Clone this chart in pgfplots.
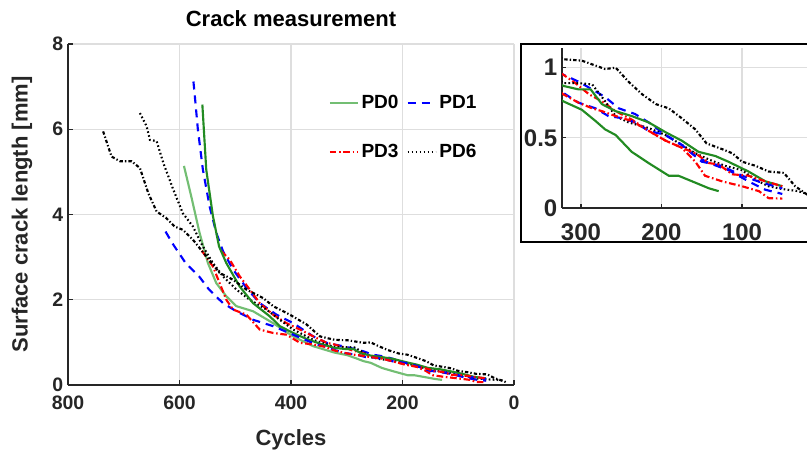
\documentclass[border=0pt]{standalone}
\usepackage{pgfplots}
\pgfplotsset{compat=1.18}
\usepackage{pgfplotstable}
\usepackage{fontspec}
\setmainfont{Liberation Sans}
\definecolor{lg}{RGB}{115,190,115}
\definecolor{dg}{RGB}{34,139,34}
\definecolor{tc}{RGB}{38,38,38}
\definecolor{gc}{RGB}{222,222,222}

% PD0 light green
\pgfplotstableread{
x y
592 5.14
579 4.43
564 3.57
549 2.86
534 2.39
516 2.08
498 1.85
468 1.73
432 1.45
396 1.14
360 0.91
322 0.76
299 0.70
282 0.62
270 0.56
257 0.52
237 0.40
216 0.32
191 0.23
179 0.23
162 0.19
141 0.14
129 0.12
}\pdB
% PD0 dark green
\pgfplotstableread{
x y
559 6.58
552 5.05
540 3.96
529 3.25
516 2.86
492 2.31
468 1.92
438 1.61
420 1.38
396 1.22
372 1.08
348 0.97
322 0.87
303 0.845
288 0.845
274 0.74
257 0.69
237 0.655
216 0.61
195 0.54
175 0.48
154 0.40
133 0.37
117 0.33
92 0.26
71 0.19
50 0.155
}\pdA
% PD1 upper
\pgfplotstableread{
x y
575 7.12
573 6.85
567 5.99
558 5.05
546 4.19
534 3.57
522 3.14
504 2.71
480 2.28
456 1.92
426 1.65
396 1.45
360 1.14
336 0.99
322 0.95
303 0.90
286 0.845
270 0.79
253 0.71
233 0.67
216 0.61
195 0.52
175 0.45
158 0.37
141 0.32
117 0.27
92 0.19
71 0.13
50 0.10
}\pdC
% PD1 lower
\pgfplotstableread{
x y
625 3.60
613 3.33
589 2.86
565 2.55
547 2.24
522 1.92
498 1.73
468 1.53
432 1.38
396 1.18
360 0.98
340 0.90
322 0.82
303 0.75
282 0.71
266 0.655
249 0.64
233 0.61
216 0.55
195 0.52
175 0.45
150 0.33
125 0.30
100 0.23
75 0.18
50 0.14
}\pdD
% PD3 upper
\pgfplotstableread{
x y
525 3.14
510 2.94
492 2.55
474 2.24
456 1.92
432 1.65
408 1.45
384 1.30
360 1.14
336 0.99
322 0.95
307 0.89
290 0.81
274 0.76
257 0.69
237 0.63
216 0.55
195 0.48
175 0.43
158 0.33
146 0.23
125 0.19
100 0.155
79 0.12
67 0.07
50 0.067
}\pdE
% PD3 lower
\pgfplotstableread{
x y
560 3.15
540 2.78
528 2.39
516 2.00
504 1.77
480 1.65
456 1.30
432 1.22
408 1.18
384 0.99
360 0.95
340 0.90
322 0.81
303 0.75
286 0.71
274 0.69
257 0.655
237 0.62
216 0.55
195 0.48
175 0.43
158 0.39
141 0.32
129 0.31
112 0.24
92 0.23
71 0.19
50 0.155
}\pdF
% PD6 dotted
\pgfplotstableread{
x y
671 6.38
659 6.07
653 5.75
641 5.72
629 5.21
611 4.58
594 4.03
576 3.72
558 3.25
540 2.86
522 2.55
498 2.24
474 2.00
444 1.77
420 1.53
396 1.30
360 1.06
340 0.97
322 0.89
303 0.89
286 0.88
270 0.76
257 0.655
241 0.61
216 0.57
195 0.52
175 0.45
158 0.39
141 0.345
121 0.30
100 0.27
83 0.20
67 0.155
50 0.135
30 0.12
19 0.10
}\pdG
% PD6 dash-dot
\pgfplotstableread{
x y
737 5.95
722 5.36
707 5.25
686 5.25
671 5.09
656 4.50
641 4.07
624 3.92
609 3.72
594 3.64
576 3.41
552 3.02
528 2.63
504 2.47
480 2.24
450 2.04
432 1.85
402 1.65
372 1.42
348 1.14
322 1.06
299 1.05
270 0.99
257 1.00
241 0.90
224 0.81
207 0.74
191 0.71
175 0.64
158 0.56
144 0.46
125 0.42
112 0.39
100 0.33
83 0.30
67 0.26
48 0.25
34 0.155
19 0.095
12 0.05
}\pdH

\pgfplotsset{
  sPDzero/.style={lg, line width=1.6pt, solid},
  sPDzeroB/.style={dg, line width=1.6pt, solid},
  sPDone/.style={blue, line width=1.6pt, dash pattern=on 6pt off 4.5pt},
  sPDthree/.style={red, line width=1.6pt, dash pattern=on 5pt off 2pt on 1.2pt off 2pt},
  sPDsix/.style={black, line width=1.6pt, dash pattern=on 1.2pt off 1.8pt},
  sPDsixB/.style={black, line width=1.6pt, dash pattern=on 2.5pt off 1.6pt on 1pt off 1.6pt},
  common/.style={
    scale only axis, x dir=reverse,
    grid=major, major grid style={gc, line width=0.8pt},
    axis x line*=bottom, axis y line*=left,
    axis line style={tc, line width=1pt, -},
    tick align=inside, major tick length=4pt, tick style={tc, line width=0.8pt},
    /pgf/number format/assume math mode=true,
  },
}

\begin{document}
\begin{tikzpicture}
\useasboundingbox (0pt,0pt) rectangle (605.25pt,337.5pt);
\begin{axis}[common,
  at={(51pt,48.75pt)}, anchor=south west,
  width=334.5pt, height=255.75pt,
  xmin=0, xmax=800, ymin=0, ymax=8,
  xtick={0,200,400,600,800}, ytick={0,2,4,6,8},
  ticklabel style={font=\fontsize{14.6}{16}\selectfont\bfseries, text=tc},
  xticklabel style={yshift=-4.5pt},
  xlabel={Cycles}, ylabel={Surface crack length [mm]},
  label style={font=\fontsize{16.5}{18}\selectfont\bfseries, text=tc},
  xlabel style={at={(axis description cs:0.5,-0.16)}, anchor=center},
  ylabel style={at={(axis description cs:-0.103,0.5)}, anchor=center},
  title={Crack measurement},
  title style={font=\fontsize{16.5}{18}\selectfont\bfseries, at={(axis description cs:0.5,1.052)}, anchor=center},
  legend columns=2,
  legend style={draw=none, fill=none, at={(rel axis cs:0.575,0.865)}, anchor=north west,
    font=\fontsize{14.3}{16}\selectfont\bfseries, row sep=21pt,
    /tikz/every even column/.append style={column sep=4pt}},
  legend cell align=left,
  legend image code/.code={\draw[#1] (0pt,0pt) -- (21pt,0pt);},
]
\addplot[sPDzero] table[x=x,y=y]{\pdB};
\addlegendentry{PD0}
\addplot[sPDone] table[x=x,y=y]{\pdC};
\addlegendentry{PD1}
\addplot[sPDthree] table[x=x,y=y]{\pdE};
\addlegendentry{PD3}
\addplot[sPDsix] table[x=x,y=y]{\pdG};
\addlegendentry{PD6}
\addplot[sPDzeroB, forget plot] table[x=x,y=y]{\pdA};
\addplot[sPDone, forget plot] table[x=x,y=y]{\pdD};
\addplot[sPDthree, forget plot] table[x=x,y=y]{\pdF};
\addplot[sPDsixB, forget plot] table[x=x,y=y]{\pdH};
\end{axis}

\draw[line width=1.5pt, black] (606.75pt,304.5pt) -- (390.75pt,304.5pt) -- (390.75pt,156pt) -- (606.75pt,156pt);

\begin{axis}[common,
  at={(421.5pt,181.5pt)}, anchor=south west,
  width=183.75pt, height=120pt,
  xmin=19.3, xmax=323.6, ymin=0, ymax=1.14,
  xtick={100,200,300}, ytick={0,0.5,1},
  ticklabel style={font=\fontsize{18}{20}\selectfont\bfseries, text=tc},
  xticklabel style={yshift=-8pt},
  major tick length=3pt,
]
\addplot[sPDzeroB] table[x=x,y=y]{\pdB};
\addplot[sPDone] table[x=x,y=y]{\pdC};
\addplot[sPDthree] table[x=x,y=y]{\pdE};
\addplot[sPDsix] table[x=x,y=y]{\pdG};
\addplot[sPDzeroB] table[x=x,y=y]{\pdA};
\addplot[sPDone] table[x=x,y=y]{\pdD};
\addplot[sPDthree] table[x=x,y=y]{\pdF};
\addplot[sPDsixB] table[x=x,y=y]{\pdH};
\end{axis}
\end{tikzpicture}
\end{document}
